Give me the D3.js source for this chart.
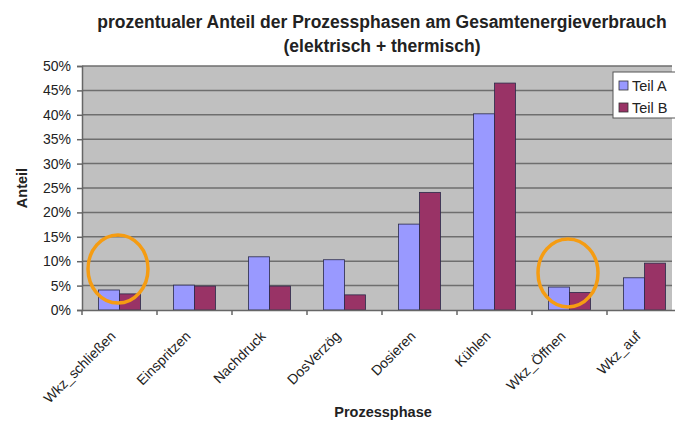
<!DOCTYPE html>
<html>
<head>
<meta charset="utf-8">
<script src="https://cdn.jsdelivr.net/npm/d3@7"></script>
<style>
  body { margin: 0; background: #fff; }
  text { font-family: "Liberation Sans", Arial, sans-serif; fill: #222; }
</style>
</head>
<body>
<div id="chart-area"></div>
<script>
// data
var phases = ["Wkz_schließen", "Einspritzen", "Nachdruck", "DosVerzög", "Dosieren", "Kühlen", "Wkz_Öffnen", "Wkz_auf"];
var teilA = [4.1, 5.1, 10.9, 10.3, 17.6, 40.2, 4.7, 6.6];
var teilB = [3.3, 4.9, 4.9, 3.1, 24.1, 46.5, 3.6, 9.6];
var seriesNames = ["Teil A", "Teil B"];
var yTicks = [0, 5, 10, 15, 20, 25, 30, 35, 40, 45, 50];
// orange marks drawn on the original picture
var marks = [{ phase: "Wkz_schließen", value: 8.4 }, { phase: "Wkz_Öffnen", value: 7.6 }];

var W = 675, H = 427;
var margin = { left: 82, top: 66, right: -7, bottom: 117 };
var plotRight = 672;

var svg = d3.select("#chart-area").append("svg")
    .attr("width", W)
    .attr("height", H);

var x = d3.scaleBand().domain(phases).range([margin.left, W - margin.right]).paddingInner(0.44).paddingOuter(0.22);
var x0 = d3.scaleBand().domain(phases).range([margin.left, W - margin.right]);
var xs = d3.scaleBand().domain(seriesNames).range([0, x.bandwidth()]);
var y = d3.scaleLinear().domain([0, 50]).range([H - margin.bottom, margin.top]);

var colors = { "Teil A": "#9999ff", "Teil B": "#993366" };

// plot background
svg.append("rect")
    .attr("x", margin.left)
    .attr("y", y(50))
    .attr("width", plotRight - margin.left)
    .attr("height", y(0) - y(50))
    .attr("fill", "#c0c0c0");

// grid lines
svg.append("g").selectAll("line")
    .data(yTicks.filter(function(d) { return d > 0; }))
    .enter().append("line")
    .attr("x1", margin.left).attr("x2", plotRight)
    .attr("y1", function(d) { return y(d); })
    .attr("y2", function(d) { return y(d); })
    .attr("stroke", "#6e6e6e")
    .attr("stroke-width", 1.5);

// bars
var rows = phases.map(function(p, i) {
    return { phase: p, vals: [{ s: "Teil A", v: teilA[i] }, { s: "Teil B", v: teilB[i] }] };
});
var groups = svg.append("g").selectAll("g")
    .data(rows)
    .enter().append("g")
    .attr("transform", function(d) { return "translate(" + x(d.phase) + ",0)"; });
groups.selectAll("rect")
    .data(function(d) { return d.vals; })
    .enter().append("rect")
    .attr("x", function(d) { return xs(d.s); })
    .attr("y", function(d) { return y(d.v); })
    .attr("width", xs.bandwidth())
    .attr("height", function(d) { return y(0) - y(d.v); })
    .attr("fill", function(d) { return colors[d.s]; })
    .attr("stroke", "#2a2a4a")
    .attr("stroke-width", 0.8);

// y axis
var yAxis = svg.append("g")
    .attr("transform", "translate(" + margin.left + ",0)")
    .call(d3.axisLeft(y).tickValues(yTicks).tickSize(5).tickPadding(6).tickFormat(function(d) { return d + "%"; }));
yAxis.select(".domain").attr("stroke", "#666").attr("stroke-width", 1.5);
yAxis.selectAll(".tick line").attr("stroke", "#666").attr("stroke-width", 1.5);
yAxis.selectAll("text").attr("font-size", "14px").attr("fill", "#222");

// x axis
var xAxis = svg.append("g")
    .attr("transform", "translate(0," + y(0) + ")")
    .call(d3.axisBottom(x0).tickSize(0).tickFormat(""));
xAxis.select(".domain").attr("stroke", "#666").attr("stroke-width", 1.5);
xAxis.selectAll(".tick").remove();
svg.append("g").selectAll("line")
    .data(phases)
    .enter().append("line")
    .attr("x1", function(d) { return x0(d); })
    .attr("x2", function(d) { return x0(d); })
    .attr("y1", y(0)).attr("y2", y(0) + 5)
    .attr("stroke", "#666").attr("stroke-width", 1.5);

// x labels
svg.append("g").selectAll("text")
    .data(phases)
    .enter().append("text")
    .attr("transform", function(d) {
        return "translate(" + (x0(d) + x0.bandwidth() / 2 - 3) + "," + (y(0) + 27) + ") rotate(-45)";
    })
    .attr("text-anchor", "end")
    .attr("font-size", "14px")
    .attr("fill", "#222")
    .text(function(d) { return d; });

// titles
svg.append("text")
    .attr("x", 382).attr("y", 28)
    .attr("text-anchor", "middle")
    .attr("font-size", "17.5px").attr("font-weight", "bold")
    .text("prozentualer Anteil der Prozessphasen am Gesamtenergieverbrauch");
svg.append("text")
    .attr("x", 382).attr("y", 52)
    .attr("text-anchor", "middle")
    .attr("font-size", "17.5px").attr("font-weight", "bold")
    .text("(elektrisch + thermisch)");
svg.append("text")
    .attr("x", 383).attr("y", 417)
    .attr("text-anchor", "middle")
    .attr("font-size", "14.5px").attr("font-weight", "bold")
    .text("Prozessphase");
svg.append("text")
    .attr("transform", "translate(27,188) rotate(-90)")
    .attr("text-anchor", "middle")
    .attr("font-size", "14.5px").attr("font-weight", "bold")
    .text("Anteil");

// legend
var legend = svg.append("g");
legend.append("rect")
    .attr("x", 613).attr("y", 72)
    .attr("width", 64).attr("height", 46)
    .attr("fill", "#fff").attr("stroke", "#555").attr("stroke-width", 1);
var li = legend.selectAll("g.item")
    .data(seriesNames)
    .enter().append("g")
    .attr("transform", function(d, i) { return "translate(619," + (81 + i * 22) + ")"; });
li.append("rect")
    .attr("width", 9).attr("height", 9)
    .attr("fill", function(d) { return colors[d]; })
    .attr("stroke", "#333").attr("stroke-width", 0.8);
li.append("text")
    .attr("x", 13).attr("y", 10)
    .attr("font-size", "14.5px")
    .text(function(d) { return d; });

// orange ellipses
svg.append("g").selectAll("ellipse")
    .data(marks)
    .enter().append("ellipse")
    .attr("cx", function(d) { return x0(d.phase) + x0.bandwidth() / 2 - 1.5; })
    .attr("cy", function(d) { return y(d.value); })
    .attr("rx", 30).attr("ry", 34)
    .attr("fill", "none")
    .attr("stroke", "#f59c12")
    .attr("stroke-width", 3.5);
</script>
</body>
</html>
